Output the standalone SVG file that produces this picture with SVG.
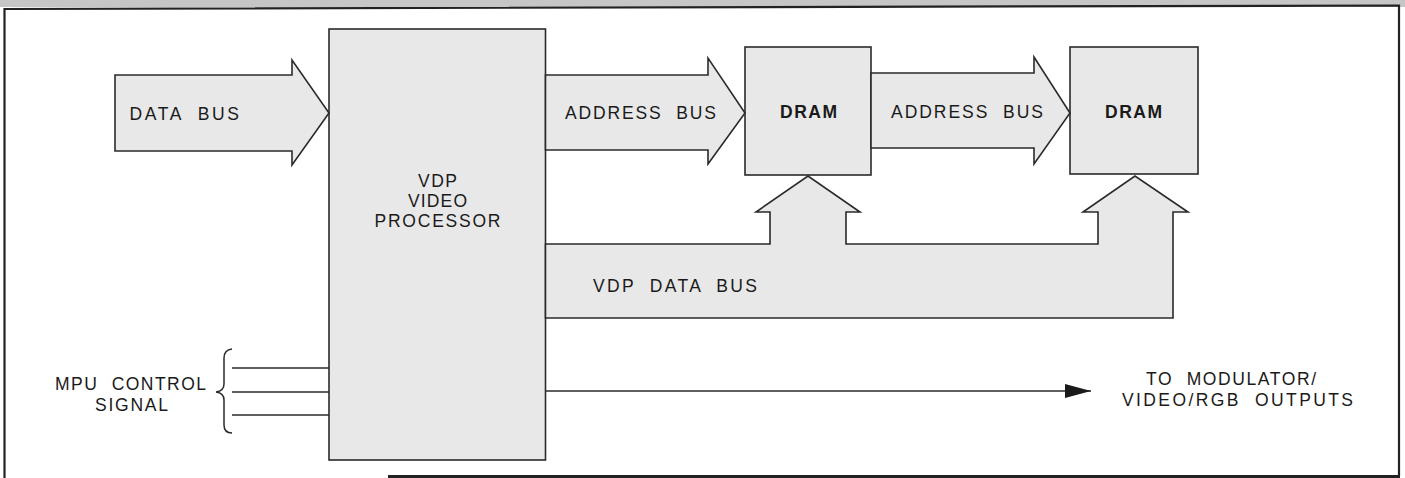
<svg xmlns="http://www.w3.org/2000/svg" width="1405" height="478" viewBox="0 0 1405 478">
  <style>
    .shape { fill: #e8e8e8; stroke: #2a2a2a; stroke-width: 1.6; stroke-linejoin: miter; }
    .wire { fill: none; stroke: #2a2a2a; stroke-width: 1.5; }
    .lbl { font-family: "Liberation Sans", Arial, sans-serif; font-size: 17.5px; fill: #1a1a1a; word-spacing: 7px; }
    .bold { font-weight: bold; }
    .mid { text-anchor: middle; }
  </style>
  <defs>
    <marker id="arrowhead" markerWidth="26" markerHeight="14" refX="26" refY="7" orient="auto" markerUnits="userSpaceOnUse">
      <polygon points="0,0 26,7 0,14" fill="#1a1a1a"/>
    </marker>
  </defs>

  <rect x="0" y="0" width="1405" height="478" fill="#ffffff"/>
  <rect x="0" y="0" width="1405" height="7" fill="#c6c6c6"/>
  <g id="frame">
    <path d="M4.5,478 L4.5,9 L1399,5.5 L1399,476" fill="none" stroke="#222" stroke-width="2.2"/>
    <path d="M388,476.5 L1400,476.5" fill="none" stroke="#222" stroke-width="3"/>
  </g>

  <g id="vdp">
    <rect class="shape" x="329" y="29" width="216.5" height="431"/>
    <text class="lbl mid" x="437.5" y="187" textLength="39" lengthAdjust="spacing">VDP</text>
    <text class="lbl mid" x="437.5" y="207" textLength="59" lengthAdjust="spacing">VIDEO</text>
    <text class="lbl mid" x="437.5" y="227" textLength="126" lengthAdjust="spacing">PROCESSOR</text>
  </g>

  <g id="dram1">
    <rect class="shape" x="745" y="47" width="126" height="128"/>
    <text class="lbl bold" x="780" y="117.5" textLength="57" lengthAdjust="spacing">DRAM</text>
  </g>

  <g id="dram2">
    <rect class="shape" x="1070" y="47" width="128" height="127"/>
    <text class="lbl bold" x="1105" y="117.5" textLength="57" lengthAdjust="spacing">DRAM</text>
  </g>

  <g id="connectors">
    <g id="data-bus">
      <polygon class="shape" points="115,75 292,75 292,60 329,113 292,165 292,151 115,151"/>
      <text class="lbl" x="129.5" y="120" textLength="109.5" lengthAdjust="spacing">DATA BUS</text>
    </g>
    <g id="address-bus-1">
      <polygon class="shape" points="545.5,75 708,75 708,58 745,113 708,164 708,150 545.5,150"/>
      <text class="lbl" x="565" y="119" textLength="151" lengthAdjust="spacing">ADDRESS BUS</text>
    </g>
    <g id="address-bus-2">
      <polygon class="shape" points="871,73 1034,73 1034,57 1070,113 1034,164 1034,148 871,148"/>
      <text class="lbl" x="891" y="118" textLength="152" lengthAdjust="spacing">ADDRESS BUS</text>
    </g>
    <g id="vdp-data-bus">
      <polygon class="shape" points="545.5,244 770,244 770,212 756,212 808,176 860,212 846,212 846,244 1098,244 1098,212 1083,212 1135,176 1188,212 1173,212 1173,318 545.5,318"/>
      <text class="lbl" x="593" y="292" textLength="164" lengthAdjust="spacing">VDP DATA BUS</text>
    </g>
    <g id="mpu-control">
      <path class="wire" d="M232,349 Q224,350 224,358 L224,384 Q224,391 216,392 Q224,393 224,400 L224,425 Q224,433 232,433"/>
      <line class="wire" x1="232" y1="368" x2="329" y2="368"/>
      <line class="wire" x1="232" y1="392" x2="329" y2="392"/>
      <line class="wire" x1="232" y1="415" x2="329" y2="415"/>
      <text class="lbl" x="55" y="390" textLength="151" lengthAdjust="spacing">MPU CONTROL</text>
      <text class="lbl mid" x="131.5" y="410.5" textLength="73" lengthAdjust="spacing">SIGNAL</text>
    </g>
    <g id="video-output">
      <line class="wire" x1="545.5" y1="391" x2="1091" y2="391" marker-end="url(#arrowhead)"/>
      <text class="lbl mid" x="1231" y="385" textLength="170" lengthAdjust="spacing">TO MODULATOR/</text>
      <text class="lbl mid" x="1237.5" y="405.5" textLength="231" lengthAdjust="spacing">VIDEO/RGB OUTPUTS</text>
    </g>
  </g>
</svg>
